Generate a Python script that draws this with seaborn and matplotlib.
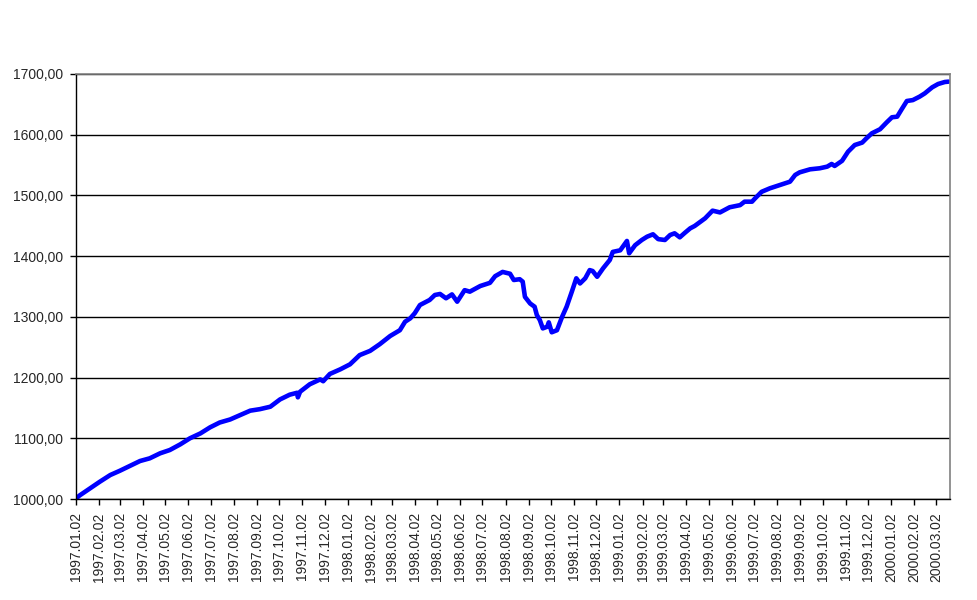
import pandas as pd
import seaborn as sns
import matplotlib.pyplot as plt
import matplotlib.dates as mdates
from matplotlib.ticker import FuncFormatter, MultipleLocator

start_date = "1997-01-02"

# days after 1997-01-02
day_offsets = [
    0, 5, 19, 32, 46, 59, 73, 86, 99, 113, 126, 140, 153, 167, 180, 193,
    207, 220, 234, 247, 261, 274, 287, 297, 298, 301, 314, 328, 332, 341,
    355, 368, 381, 395, 408, 422, 435, 442, 449, 455, 462, 475, 482, 489,
    497, 505, 512, 522, 529, 543, 556, 563, 573, 583, 588, 596, 600, 603,
    610, 616, 619, 623, 627, 633, 635, 639, 646, 653, 659, 666, 672, 677,
    684, 690, 694, 700, 708, 717, 721, 731, 740, 743, 751, 760, 767, 775,
    782, 791, 798, 804, 811, 818, 825, 831, 845, 855, 865, 878, 892, 898,
    908, 912, 921, 932, 945, 959, 966, 972, 986, 999, 1009, 1015, 1019,
    1029, 1037, 1046, 1056, 1062, 1069, 1080, 1089, 1096, 1103, 1109, 1116,
    1124, 1133, 1140, 1150, 1158, 1167, 1172,
]

index_values = [
    1001, 1006, 1017.6, 1028.5, 1039.5, 1046.6, 1054.9, 1062.6, 1067, 1075.3,
    1080.7, 1090, 1100, 1108, 1118, 1126, 1131, 1138, 1145.5, 1148, 1152,
    1164, 1171.8, 1175, 1167.5, 1176.7, 1189, 1197, 1194, 1206, 1213.6,
    1221.8, 1237, 1244, 1255, 1268.5, 1278, 1292, 1297.6, 1306, 1319.5,
    1327.8, 1336, 1337.7, 1330.6, 1337, 1325, 1344, 1341.5, 1350.8, 1356,
    1367, 1374, 1371, 1360.7, 1362, 1358, 1333, 1322, 1316.7, 1303, 1294.8,
    1281, 1283.8, 1291, 1274.6, 1278, 1300.3, 1316.7, 1341.5, 1363.5, 1355,
    1363.5, 1377, 1375.5, 1366, 1380, 1393.7, 1407, 1409.6, 1425, 1404.7,
    1418, 1426.6, 1432, 1436, 1428, 1426.6, 1434.8, 1437.6, 1431, 1438.6,
    1445.8, 1449.7, 1462.3, 1474.9, 1472, 1480.5, 1484, 1489.7, 1489.7, 1495,
    1506, 1511.7, 1517, 1522.6, 1533.7, 1538, 1543, 1544.7, 1547.4, 1551.8,
    1548.5, 1557, 1572, 1583, 1587, 1594.4, 1602.3, 1609, 1620.4, 1628.7,
    1629.7, 1641.8, 1655.5, 1657, 1662.6, 1668, 1678, 1683.5, 1686.8, 1687.4,
]

df = pd.DataFrame({
    "date": pd.Timestamp(start_date) + pd.to_timedelta(day_offsets, unit="D"),
    "value": index_values,
})

sns.set_style("white")
plt.rcParams["font.family"] = ["Liberation Sans", "DejaVu Sans"]
plt.rcParams["font.size"] = 10

fig = plt.figure(figsize=(9.77, 6), dpi=100)
ax = fig.add_axes([0.0778, 0.1683, 0.8946, 0.7084])

sns.lineplot(data=df, x="date", y="value", color="#0000FF", linewidth=3.3, ax=ax)

ax.set_xlim(pd.Timestamp(start_date), pd.Timestamp(start_date) + pd.Timedelta(days=1174))
ax.set_ylim(1000, 1700)

ax.yaxis.set_major_locator(MultipleLocator(100))
ax.yaxis.set_major_formatter(FuncFormatter(lambda v, p: f"{v:.2f}".replace(".", ",")))
ax.xaxis.set_major_locator(mdates.MonthLocator(bymonthday=2))
ax.xaxis.set_major_formatter(mdates.DateFormatter("%Y.%m.%d"))
plt.setp(ax.get_xticklabels(), rotation=90)

ax.tick_params(axis="both", direction="out", length=4.5, width=1, color="black",
               labelsize=10, pad=5, left=True, bottom=True)
ax.grid(axis="y", color="black", linewidth=1)
ax.grid(axis="x", visible=False)
ax.set_axisbelow(True)

for side in ["left", "bottom"]:
    ax.spines[side].set_color("black")
    ax.spines[side].set_linewidth(1)
for side in ["top", "right"]:
    ax.spines[side].set_color("#808080")
    ax.spines[side].set_linewidth(1.2)

ax.set_xlabel("")
ax.set_ylabel("")

plt.savefig("out.png", dpi=100)
